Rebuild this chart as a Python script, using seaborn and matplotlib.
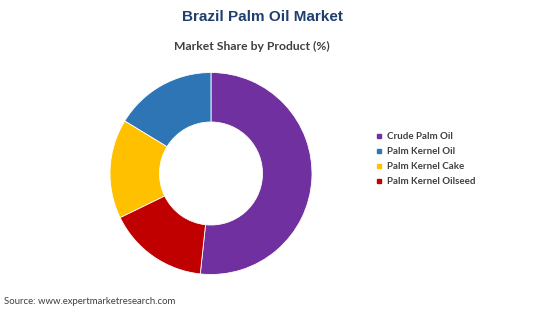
import matplotlib
matplotlib.use("Agg")
import matplotlib.pyplot as plt
import seaborn as sns
from matplotlib.lines import Line2D

sns.set_theme(style="white")
plt.rcParams['font.family'] = ['Lato', 'DejaVu Sans']

categories = ["Crude Palm Oil", "Palm Kernel Oil", "Palm Kernel Cake", "Palm Kernel Oilseed"]
shares = [51.7, 16.3, 15.9, 16.1]
colors = ["#7030A0", "#2E75B6", "#FFC000", "#C00000"]
title = "Brazil Palm Oil Market"
subtitle = "Market Share by Product (%)"
source = "Source: www.expertmarketresearch.com"

W, H = 550, 309
fig = plt.figure(figsize=(W / 100, H / 100), dpi=100)
fig.patch.set_facecolor("white")

R = 101
cx, cy = 211, 173.5
ax = fig.add_axes([(cx - R) / W, (H - cy - R) / H, 2 * R / W, 2 * R / H])
wedges, _ = ax.pie(shares, colors=colors, startangle=-96.1, counterclock=True,
                   wedgeprops=dict(width=0.49, edgecolor="white", linewidth=0.6))
ax.set_xlim(-1, 1)
ax.set_ylim(-1, 1)
ax.set_aspect("equal")
ax.axis("off")

fig.text(262 / W, 1 - 17 / H, title, ha="center", va="center",
         fontsize=11, fontweight="bold", color="#1F3F6E", family=["Liberation Sans", "DejaVu Sans"])
fig.text(252 / W, 1 - 46 / H, subtitle, ha="center", va="center",
         fontsize=8.7, fontweight="bold", color="#404040")
fig.text(4 / W, 1 - 301 / H, source, ha="left", va="center",
         fontsize=6.9, color="#404040")

handles = [Line2D([0], [0], marker="s", linestyle="none", markersize=3.5,
                  markerfacecolor=c, markeredgecolor=c) for c in colors]
leg = fig.legend(handles, categories, loc="upper left",
                 bbox_to_anchor=(376 / W, 1 - 132 / H), frameon=False,
                 fontsize=7, handlelength=0.6, handletextpad=0.5, labelspacing=0.62,
                 borderaxespad=0, borderpad=0)
for t in leg.get_texts():
    t.set_color("#404040")
    t.set_fontweight("bold")

fig.savefig("out.png", dpi=100, facecolor="white")
